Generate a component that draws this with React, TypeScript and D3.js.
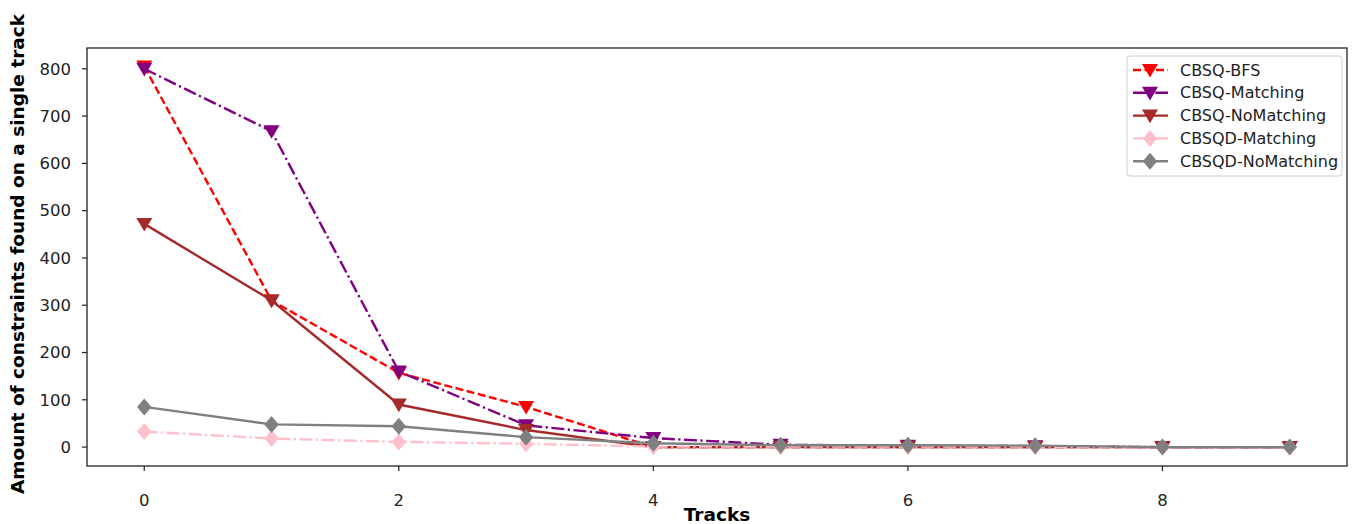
import React from 'react';
import * as d3 from 'd3';

// data
const tracks = [0, 1, 2, 3, 4, 5, 6, 7, 8, 9];
const cbsqBfs = [805, 310, 157, 85, 0, 0, 0, 0, 0, 0];
const cbsqMatching = [800, 668, 160, 46, 19, 5, 3, 2, 0, 0];
const cbsqNoMatching = [472, 310, 90, 36, 0, 0, 0, 0, 0, 0];
const cbsqdMatching = [33, 18, 11, 7, 1, 1, 1, 1, 0, 0];
const cbsqdNoMatching = [85, 48, 44, 21, 8, 4, 4, 3, 0, 0];
const xTicks = [0, 2, 4, 6, 8];
const yTicks = [0, 100, 200, 300, 400, 500, 600, 700, 800];

const series = [
  {name: 'CBSQ-BFS', values: cbsqBfs, color: 'red', dash: '8,3.5', marker: 'v'},
  {name: 'CBSQ-Matching', values: cbsqMatching, color: 'purple', dash: '13,3.5,2.2,3.5', marker: 'v'},
  {name: 'CBSQ-NoMatching', values: cbsqNoMatching, color: 'brown', dash: null, marker: 'v'},
  {name: 'CBSQD-Matching', values: cbsqdMatching, color: 'pink', dash: '13,3.5,2.2,3.5', marker: 'D'},
  {name: 'CBSQD-NoMatching', values: cbsqdNoMatching, color: 'gray', dash: null, marker: 'D'},
];

const W = 1358, H = 524;
const margin = {top: 48, right: 11, bottom: 58, left: 87};
const font = 'DejaVu Sans, sans-serif';

function Marker({type, x, y, color}: {type: string, x: number, y: number, color: string}) {
  if (type === 'v') {
    const s = 8;
    return <path d={`M${x - s},${y - s * 0.75}L${x + s},${y - s * 0.75}L${x},${y + s * 0.95}Z`} fill={color} />;
  }
  const s = 8.5;
  return <path d={`M${x},${y - s}L${x + s * 0.85},${y}L${x},${y + s}L${x - s * 0.85},${y}Z`} fill={color} />;
}

export default function App() {
  const x = d3.scaleLinear().domain([-0.45, 9.45]).range([margin.left, W - margin.right]);
  const y = d3.scaleLinear().domain([-40, 844]).range([H - margin.bottom, margin.top]);
  const line = d3.line<number>().x((d, i) => x(tracks[i])).y(d => y(d));

  const lx = 1127, ly = 56;

  return (
    <svg width={W} height={H} style={{position: 'absolute', left: 0, top: 0, background: '#fff'}} fontFamily={font}>
      {series.map(s => (
        <g key={s.name}>
          <path d={line(s.values) || ''} fill="none" stroke={s.color} strokeWidth={2.4}
            strokeDasharray={s.dash || undefined} />
          {s.values.map((v, i) => <Marker key={i} type={s.marker} x={x(tracks[i])} y={y(v)} color={s.color} />)}
        </g>
      ))}

      {/* frame */}
      <rect x={margin.left} y={margin.top} width={W - margin.right - margin.left}
        height={H - margin.bottom - margin.top} fill="none" stroke="#222" strokeWidth={1.3} />

      {xTicks.map(t => (
        <g key={t} transform={`translate(${x(t)},${H - margin.bottom})`}>
          <line y2={5} stroke="#222" strokeWidth={1.2} />
          <text y={40} textAnchor="middle" fontSize={16.5} fill="#222">{t}</text>
        </g>
      ))}
      {yTicks.map(t => (
        <g key={t} transform={`translate(${margin.left},${y(t)})`}>
          <line x2={-5} stroke="#222" strokeWidth={1.2} />
          <text x={-16} dy="0.35em" textAnchor="end" fontSize={16.5} fill="#222">{t}</text>
        </g>
      ))}

      <text x={(margin.left + W - margin.right) / 2} y={521} textAnchor="middle" fontSize={18.5}
        fontWeight="bold" fill="#000">Tracks</text>
      <text transform={`translate(24,254) rotate(-90)`} textAnchor="middle"
        fontSize={18.5} fontWeight="bold" fill="#000">Amount of constraints found on a single track</text>

      {/* legend */}
      <rect x={lx} y={ly} width={215} height={120} rx={3} fill="#fff" fillOpacity={0.8} stroke="#ccc" />
      {series.map((s, i) => {
        const yy = ly + 14 + i * 22.8;
        return (
          <g key={s.name}>
            <line x1={lx + 6} x2={lx + 41} y1={yy} y2={yy} stroke={s.color} strokeWidth={2.4}
              strokeDasharray={s.dash || undefined} />
            <Marker type={s.marker} x={lx + 23} y={yy} color={s.color} />
            <text x={lx + 53} y={yy} dy="0.35em" fontSize={16} fill="#222">{s.name}</text>
          </g>
        );
      })}
    </svg>
  );
}
